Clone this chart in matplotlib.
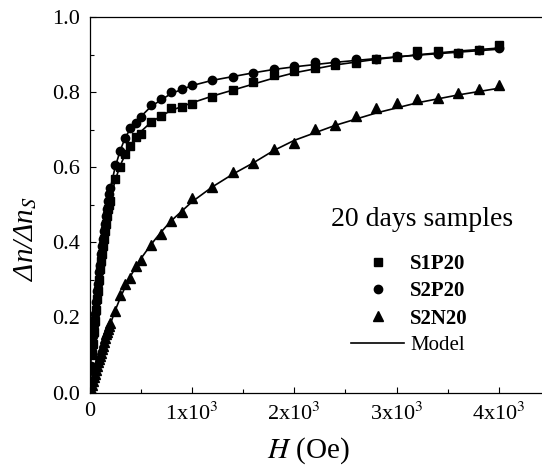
import matplotlib
matplotlib.use("Agg")
import matplotlib.pyplot as plt
from matplotlib.lines import Line2D
from matplotlib.ticker import MultipleLocator, FuncFormatter

plt.rcParams["font.family"] = ["Liberation Serif", "DejaVu Serif"]
plt.rcParams["mathtext.fontset"] = "stix"

# measured field (Oe)
H = [0, 10, 20, 30, 40, 50, 60, 70, 80, 90, 100, 110, 120, 130, 140, 150, 160,
     170, 180, 190, 200, 250, 300, 350, 400, 450, 500, 600, 700, 800, 900, 1000,
     1200, 1400, 1600, 1800, 2000, 2200, 2400, 2600, 2800, 3000, 3200, 3400,
     3600, 3800, 4000]

s1p20 = [0.0, 0.06, 0.10, 0.13, 0.16, 0.19, 0.22, 0.25, 0.27, 0.30, 0.33, 0.35,
         0.37, 0.39, 0.41, 0.43, 0.45, 0.47, 0.49, 0.50, 0.51, 0.57, 0.60, 0.636,
         0.658, 0.682, 0.69, 0.722, 0.738, 0.757, 0.760, 0.769, 0.788, 0.806,
         0.828, 0.846, 0.857, 0.865, 0.874, 0.878, 0.89, 0.895, 0.909, 0.911,
         0.906, 0.914, 0.927]

s2p20 = [0.0, 0.07, 0.11, 0.15, 0.18, 0.21, 0.24, 0.27, 0.29, 0.32, 0.34, 0.37,
         0.39, 0.41, 0.43, 0.45, 0.47, 0.49, 0.51, 0.53, 0.546, 0.606, 0.644,
         0.679, 0.704, 0.719, 0.735, 0.766, 0.782, 0.800, 0.808, 0.819, 0.834,
         0.841, 0.852, 0.862, 0.871, 0.880, 0.880, 0.888, 0.889, 0.897, 0.899,
         0.903, 0.906, 0.913, 0.918]

s2n20 = [0.0, 0.01, 0.02, 0.03, 0.04, 0.05, 0.06, 0.07, 0.08, 0.09, 0.097, 0.105,
         0.115, 0.125, 0.135, 0.145, 0.155, 0.162, 0.17, 0.178, 0.185, 0.216,
         0.261, 0.29, 0.305, 0.336, 0.352, 0.394, 0.423, 0.456, 0.482, 0.518,
         0.547, 0.587, 0.611, 0.648, 0.664, 0.701, 0.713, 0.737, 0.759, 0.771,
         0.782, 0.785, 0.797, 0.808, 0.820]

# model curves
H_model = [0, 10, 20, 40, 60, 80, 100, 130, 160, 200, 250, 300, 350, 400, 500,
           600, 700, 800, 1000, 1200, 1400, 1600, 1800, 2000, 2400, 2800, 3200,
           3600, 4000]
m_s1p20 = [0.0, 0.07, 0.12, 0.20, 0.26, 0.31, 0.35, 0.41, 0.46, 0.51, 0.565,
           0.605, 0.635, 0.66, 0.695, 0.72, 0.737, 0.752, 0.772, 0.79, 0.806,
           0.822, 0.838, 0.852, 0.873, 0.888, 0.900, 0.910, 0.918]
m_s2p20 = [0.0, 0.08, 0.13, 0.21, 0.27, 0.32, 0.37, 0.43, 0.48, 0.54, 0.60,
           0.645, 0.68, 0.703, 0.735, 0.762, 0.78, 0.797, 0.818, 0.832, 0.842,
           0.852, 0.861, 0.868, 0.88, 0.89, 0.899, 0.907, 0.915]
m_s2n20 = [0.0, 0.01, 0.02, 0.04, 0.06, 0.08, 0.097, 0.122, 0.148, 0.18, 0.218,
           0.252, 0.282, 0.31, 0.356, 0.394, 0.428, 0.458, 0.508, 0.548, 0.582,
           0.612, 0.645, 0.672, 0.712, 0.745, 0.772, 0.793, 0.811]

W, Hpx = 542, 474
fig = plt.figure(figsize=(W / 100, Hpx / 100), dpi=100)
ax = fig.add_axes([89.5 / W, 1 - 392.5 / Hpx, 1 - 89.5 / W, (392.5 - 17.3) / Hpx])

lw = 1.2
ax.plot(H_model, m_s1p20, color="black", lw=lw)
ax.plot(H_model, m_s2p20, color="black", lw=lw)
ax.plot(H_model, m_s2n20, color="black", lw=lw)
ax.plot(H, s1p20, "s", color="black", ms=5.5, ls="none")
ax.plot(H, s2p20, "o", color="black", ms=6, ls="none")
ax.plot(H, s2n20, "^", color="black", ms=6.5, ls="none")

ax.set_xlim(0, 4420)
ax.set_ylim(0, 1.0)
ax.spines["right"].set_visible(False)
for s in ("left", "top", "bottom"):
    ax.spines[s].set_linewidth(0.9)

ax.xaxis.set_major_locator(MultipleLocator(1000))
ax.xaxis.set_minor_locator(MultipleLocator(500))
ax.yaxis.set_major_locator(MultipleLocator(0.2))
ax.yaxis.set_minor_locator(MultipleLocator(0.1))
ax.xaxis.set_major_formatter(FuncFormatter(
    lambda v, p: "0" if v == 0 else "%dx10$^{3}$" % round(v / 1000)))
ax.yaxis.set_major_formatter(FuncFormatter(lambda v, p: "%.1f" % v))
ax.tick_params(which="both", direction="in", top=False, right=False,
               labelsize=16, width=0.8)
ax.tick_params(which="major", length=4.5, pad=7)
ax.tick_params(which="minor", length=3)

ax.set_xlabel(r"$\mathit{H}$ (Oe)", fontsize=21)
ax.set_ylabel("Δn/Δn$_{S}$", fontsize=21, fontstyle="italic")
ax.xaxis.set_label_coords((308 - 89.5) / (W - 89.5), -0.115)
ax.yaxis.set_label_coords(-0.112, 0.41)

fig.text(422 / W, 1 - 220 / Hpx, "20 days samples", fontsize=20,
         ha="center", va="center")

handles = [
    Line2D([], [], marker="s", color="black", ls="none", ms=5.5),
    Line2D([], [], marker="o", color="black", ls="none", ms=6),
    Line2D([], [], marker="^", color="black", ls="none", ms=6.5),
    Line2D([], [], color="black", lw=lw),
]
labels = ["S1P20", "S2P20", "S2N20", "Model"]
leg = fig.legend(handles, labels, loc="upper left",
                 bbox_to_anchor=(351 / W, 1 - 254 / Hpx), frameon=False,
                 fontsize=15, handlelength=2.55, handletextpad=0.3,
                 labelspacing=0.35, borderpad=0, borderaxespad=0)
for t in leg.get_texts()[:3]:
    t.set_fontweight("bold")

fig.savefig("out.png", dpi=100)
